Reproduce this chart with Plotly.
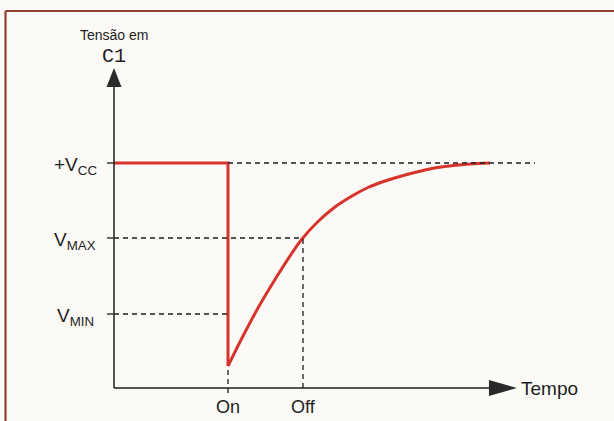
import plotly.graph_objects as go

# ---- data (time units, voltage units; origin at the axes corner) ----
step_t = [0, 114, 114]
step_v = [225, 225, 22]
curve_t = [114, 128, 144, 161, 178, 188, 204, 221, 238, 254, 271, 291, 309, 323, 339, 356, 376]
curve_v = [22, 50, 80, 108.5, 135, 149, 166.5, 181, 192, 200.5, 207, 213, 217.5, 220.5, 222.5, 224, 225]

VCC, VMAX, VMIN = 225, 150, 74
T_ON, T_OFF = 114, 189
level_vals = [VCC, VMAX, VMIN]
level_text = ["+V<sub>CC</sub>", "V<sub>MAX</sub>", "V<sub>MIN</sub>"]
time_vals = [T_ON, T_OFF]
time_text = ["On", "Off"]

Y_TOP = 320      # arrow tip of vertical axis
X_END = 403      # arrow tip of horizontal axis
VCC_DASH_END = 421

RED = "#d6342a"
INK = "#1e1e1e"
DASH = "5px,4px"
FONT = "Liberation Sans, Arial, sans-serif"

fig = go.Figure()

# red signal
fig.add_trace(go.Scatter(x=step_t, y=step_v, mode="lines",
                         line=dict(color=RED, width=3), hoverinfo="skip"))
fig.add_trace(go.Scatter(x=curve_t, y=curve_v, mode="lines",
                         line=dict(color=RED, width=3, shape="spline", smoothing=1.0),
                         hoverinfo="skip"))

shapes = []
# axes
shapes.append(dict(type="line", x0=0, y0=0, x1=0, y1=Y_TOP - 18, line=dict(color=INK, width=1.5)))
shapes.append(dict(type="line", x0=0, y0=0, x1=X_END - 27, y1=0, line=dict(color=INK, width=1.5)))
shapes.append(dict(type="path", path=f"M {-7.5},{Y_TOP-19} L 7.5,{Y_TOP-19} L 0,{Y_TOP} Z",
                   fillcolor="#2a2a2a", line=dict(width=0)))
shapes.append(dict(type="path", path=f"M {X_END-28},-8 L {X_END-28},8 L {X_END},0 Z",
                   fillcolor="#2a2a2a", line=dict(width=0)))
# ticks on the y axis
for v in level_vals:
    shapes.append(dict(type="line", x0=-7, y0=v, x1=0, y1=v, line=dict(color=INK, width=1.3)))
# dashed guides
shapes.append(dict(type="line", x0=T_ON, y0=VCC, x1=VCC_DASH_END, y1=VCC,
                   line=dict(color=INK, width=1.3, dash=DASH)))
shapes.append(dict(type="line", x0=0, y0=VMAX, x1=T_OFF, y1=VMAX,
                   line=dict(color=INK, width=1.3, dash=DASH)))
shapes.append(dict(type="line", x0=0, y0=VMIN, x1=T_ON, y1=VMIN,
                   line=dict(color=INK, width=1.3, dash=DASH)))
shapes.append(dict(type="line", x0=T_ON, y0=-5, x1=T_ON, y1=min(curve_v),
                   line=dict(color=INK, width=1.3, dash=DASH)))
shapes.append(dict(type="line", x0=T_OFF, y0=0, x1=T_OFF, y1=VMAX,
                   line=dict(color=INK, width=1.3, dash=DASH)))
# page frame
shapes.append(dict(type="line", x0=-108.5, y0=377, x1=520, y1=377, line=dict(color="#93412f", width=2.2)))
shapes.append(dict(type="line", x0=-108.5, y0=377, x1=-108.5, y1=-40, line=dict(color="#93412f", width=2.2)))

annotations = []
for v, txt in zip(level_vals, level_text):
    annotations.append(dict(x=-39, y=v, text=txt, showarrow=False, xanchor="center",
                            yanchor="middle", yshift=-3,
                            font=dict(family=FONT, size=19, color=INK)))
for t, txt in zip(time_vals, time_text):
    annotations.append(dict(x=t, y=-19, text=txt, showarrow=False, xanchor="center",
                            yanchor="middle", font=dict(family=FONT, size=18, color=INK)))
annotations.append(dict(x=X_END + 2, y=0, text="Tempo", showarrow=False, xanchor="left",
                        yanchor="middle", font=dict(family=FONT, size=19, color=INK)))
annotations.append(dict(x=0, y=353, text="Tensão em", showarrow=False, xanchor="center",
                        yanchor="middle", font=dict(family=FONT, size=14, color=INK)))
annotations.append(dict(x=0, y=332, text="C1", showarrow=False, xanchor="center",
                        yanchor="middle", font=dict(family="Liberation Mono, DejaVu Sans Mono, monospace",
                                                    size=20, color=INK)))

fig.update_layout(
    width=614, height=421,
    margin=dict(l=0, r=0, t=0, b=0),
    paper_bgcolor="#fbfaf6", plot_bgcolor="#fbfaf6",
    showlegend=False,
    shapes=shapes, annotations=annotations,
    xaxis=dict(range=[-114, 500], visible=False, fixedrange=True),
    yaxis=dict(range=[-33, 388], visible=False, fixedrange=True),
)

fig.write_html("out.html", config={"displayModeBar": False},
               post_script="document.body.style.margin='0';document.body.style.overflow='hidden';")
